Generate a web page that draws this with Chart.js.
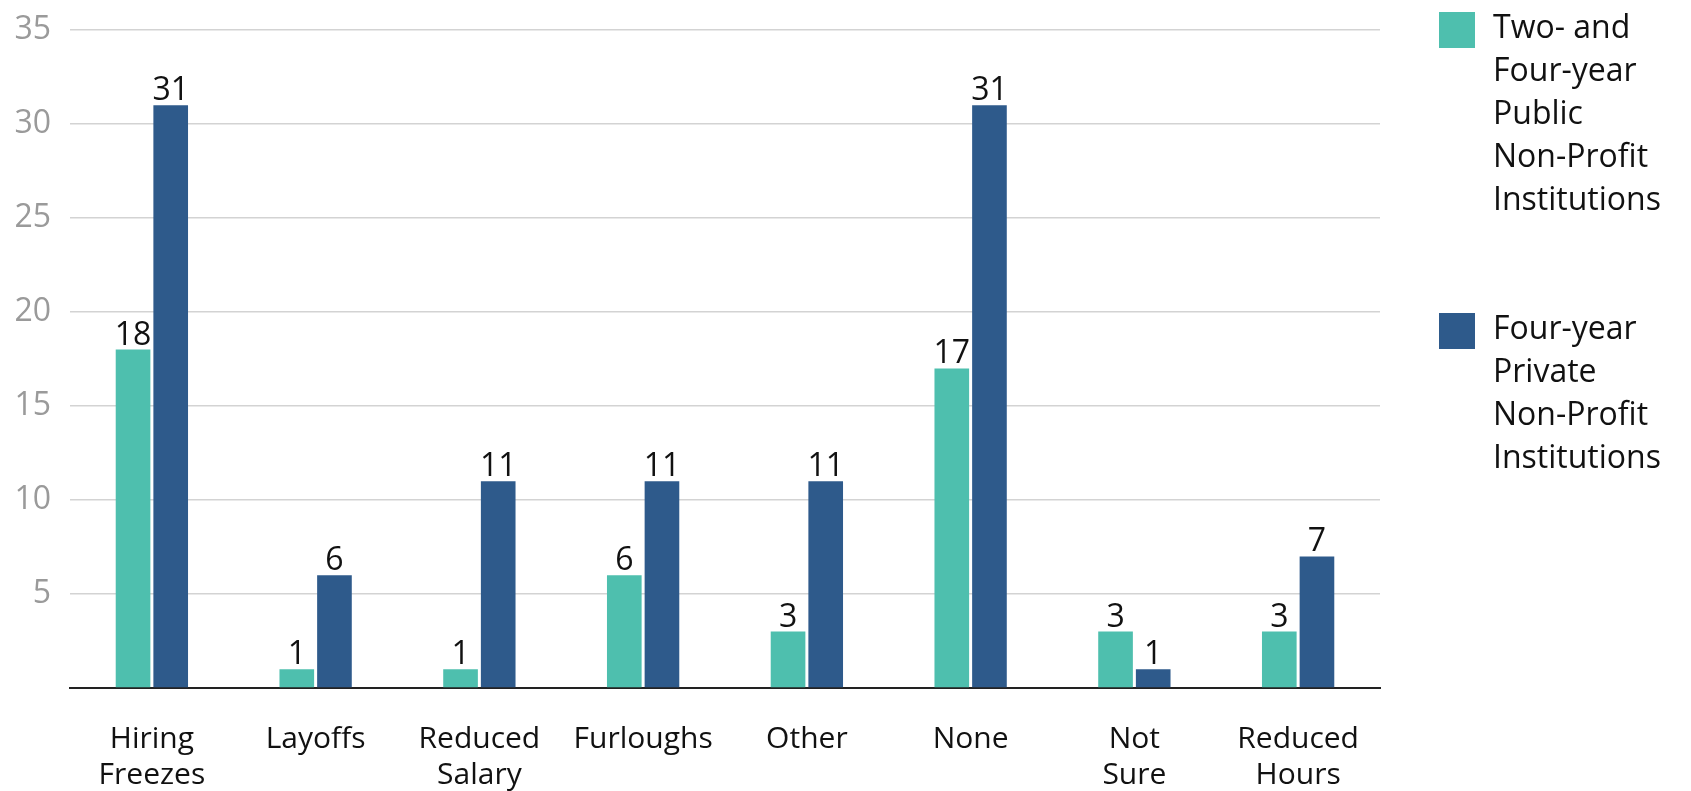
<!DOCTYPE html>
<html>
<head>
<meta charset="utf-8">
<script src="https://cdn.jsdelivr.net/npm/chart.js@4.4.0/dist/chart.umd.min.js"></script>
<style>
  html, body { margin: 0; padding: 0; background: #ffffff; }
  #wrap { position: relative; width: 1691px; height: 791px; }
</style>
</head>
<body>
<div id="wrap"><canvas id="c" width="1691" height="791"></canvas></div>
<script>
const categories = [
  ['Hiring', 'Freezes'], 'Layoffs', ['Reduced', 'Salary'], 'Furloughs',
  'Other', 'None', ['Not', 'Sure'], ['Reduced', 'Hours']
];
const seriesNames = [
  ['Two- and', 'Four-year', 'Public', 'Non-Profit', 'Institutions'],
  ['Four-year', 'Private', 'Non-Profit', 'Institutions']
];
const publicValues = [18, 1, 1, 6, 3, 17, 3, 3];
const privateValues = [31, 6, 11, 11, 11, 31, 1, 7];
const yTicks = [0, 5, 10, 15, 20, 25, 30, 35];

const FONT = "'Open Sans', 'DejaVu Sans', sans-serif";
const colors = ['#4EBFAE', '#2E5A8B'];

const valueLabels = {
  id: 'valueLabels',
  afterDatasetsDraw(chart) {
    const ctx = chart.ctx;
    ctx.save();
    ctx.fillStyle = '#111111';
    ctx.font = `32px ${FONT}`;
    ctx.textAlign = 'center';
    ctx.textBaseline = 'alphabetic';
    chart.data.datasets.forEach((ds, i) => {
      const meta = chart.getDatasetMeta(i);
      meta.data.forEach((bar, j) => {
        ctx.fillText(String(ds.data[j]), bar.x, bar.y - 5);
      });
    });
    ctx.restore();
  }
};

const sideLegend = {
  id: 'sideLegend',
  afterDraw(chart) {
    const ctx = chart.ctx;
    ctx.save();
    const boxX = 1439, box = 36, textX = 1493, lineH = 43;
    const tops = [12, 313];
    chart.data.datasets.forEach((ds, i) => {
      const top = tops[i];
      ctx.fillStyle = ds.backgroundColor;
      ctx.fillRect(boxX, top, box, box);
      ctx.fillStyle = '#111111';
      ctx.font = `32px ${FONT}`;
      ctx.textAlign = 'left';
      ctx.textBaseline = 'middle';
      const lines = seriesNames[i];
      lines.forEach((ln, k) => {
        ctx.fillText(ln, textX, top + 17 + k * lineH);
      });
    });
    ctx.restore();
  }
};

new Chart(document.getElementById('c'), {
  type: 'bar',
  data: {
    labels: categories,
    datasets: [
      { label: seriesNames[0].join(' '), data: publicValues, backgroundColor: colors[0] },
      { label: seriesNames[1].join(' '), data: privateValues, backgroundColor: colors[1] }
    ]
  },
  options: {
    responsive: false,
    animation: false,
    devicePixelRatio: 1,
    layout: { padding: { top: 30, right: 311, left: 0, bottom: 0 } },
    datasets: { bar: { categoryPercentage: 0.46, barPercentage: 0.92 } },
    plugins: { legend: { display: false }, tooltip: { enabled: false } },
    scales: {
      x: {
        grid: { display: false, drawTicks: false },
        border: { display: true, color: '#222222', width: 2 },
        ticks: { color: '#111111', font: { family: FONT, size: 30, lineHeight: 1.2 }, padding: 33, maxRotation: 0, autoSkip: false },
        afterFit(s) { s.height = 103; }
      },
      y: {
        min: 0, max: 35,
        afterBuildTicks(s) { s.ticks = yTicks.map(v => ({ value: v })); },
        grid: { color: '#D3D3D3', lineWidth: 1.5, drawTicks: true, tickLength: 17, tickColor: 'rgba(0,0,0,0)' },
        border: { display: false },
        ticks: {
          color: '#9A9A9A', font: { family: FONT, size: 32 }, padding: 2,
          callback: (v) => v === 0 ? '' : String(v)
        },
        afterFit(s) { s.width = 70; }
      }
    }
  },
  plugins: [valueLabels, sideLegend]
});
</script>
</body>
</html>
